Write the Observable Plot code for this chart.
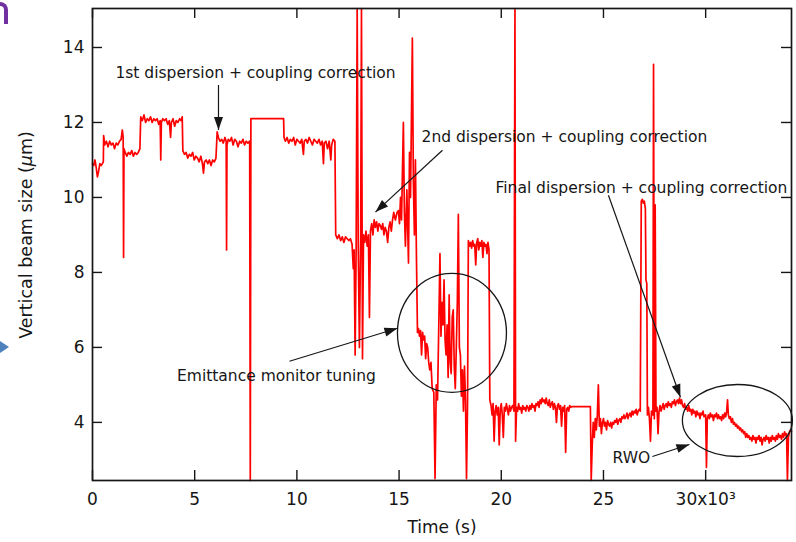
<!DOCTYPE html>
<html><head><meta charset="utf-8">
<script src="https://cdn.jsdelivr.net/npm/d3@7"></script>
<script src="https://cdn.jsdelivr.net/npm/@observablehq/plot@0.6"></script>
<style>
html,body{margin:0;padding:0;background:#fff;}
#wrap{position:relative;width:796px;height:542px;overflow:hidden;}
#deco-n{position:absolute;left:-9px;top:2px;width:9px;height:18px;border:4px solid #7030a0;border-bottom:none;border-radius:8px 8px 0 0;}
#deco-tri{position:absolute;left:0;top:341px;width:0;height:0;border-left:9px solid #4f81bd;border-top:6px solid transparent;border-bottom:6px solid transparent;}
</style></head><body><div id="wrap"><div id="chart"></div><div id="deco-n"></div><div id="deco-tri"></div></div>
<script>
// ---- data (time in s, vertical beam size in µm) ----
const phaseStart = [[0,10.9],[60,10.85],[120,11.0],[180,10.8],[240,10.55],[300,10.7],[360,10.9],[420,10.85],[480,10.9],[530,10.95],
[545,11.65],[600,11.4],[680,11.5],[760,11.35],[840,11.5],[920,11.4],[1000,11.45],[1080,11.3],[1160,11.45],[1240,11.4],[1320,11.5],[1400,11.55],[1460,11.8],[1500,11.6],[1520,8.4],[1540,11.3],[1600,11.2],[1680,11.1],[1760,11.2],[1840,11.15],[1920,11.25],[2000,11.1],[2080,11.2],[2160,11.15],[2240,11.2],[2320,11.3],
[2360,12.15],[2440,12.05],[2520,12.2],[2600,12.0],[2680,12.1],[2760,12.05],[2840,12.15],[2920,12.0],[3000,12.1],[3080,12.05],[3160,12.1],[3240,11.95],[3310,12.05],[3340,11.0],[3370,12.0],[3440,12.1],[3520,12.05],[3600,12.1],[3680,11.95],[3760,12.05],[3820,11.6],[3860,12.0],[3940,12.1],[4020,11.9],[4100,12.05],[4180,12.0],[4260,12.1],[4340,12.05],[4390,12.15],
[4420,11.25],[4500,11.15],[4580,11.2],[4660,11.05],[4740,11.15],[4820,11.1],[4900,11.2],[4980,11.0],[5060,11.1],[5140,11.05],[5220,10.95],[5300,11.1],[5380,10.9],[5430,10.65],[5480,10.95],[5560,11.0],[5640,10.9],[5720,11.0],[5800,10.85],[5880,11.0],[5960,10.95],[6040,11.05]];
const phaseFirstCorr = [[6100,11.75],[6160,11.6],[6240,11.5],[6320,11.55],[6400,11.45],[6480,11.6],[6540,11.5],[6560,8.6],[6580,11.4],[6640,11.55],[6720,11.5],[6800,11.6],[6880,11.4],[6960,11.55],[7040,11.5],[7120,11.35],[7200,11.5],[7280,11.45],[7360,11.55],[7440,11.4],[7520,11.5],[7600,11.45],[7690,11.5],[7720,2.45],[7750,12.1],[9350,12.1],
[9370,11.6],[9440,11.5],[9520,11.6],[9600,11.45],[9680,11.55],[9760,11.5],[9840,11.6],[9920,11.4],[10000,11.55],[10080,11.5],[10160,11.45],[10240,11.55],[10320,11.15],[10360,11.5],[10440,11.55],[10520,11.45],[10600,11.6],[10680,11.5],[10760,11.4],[10840,11.55],[10920,11.5],[11000,11.45],[11080,11.55],[11160,11.4],[11240,11.5],[11300,10.9],[11340,11.45],[11420,11.5],[11500,11.3],[11580,11.5],[11660,11.0],[11700,11.4],[11780,11.55],[11860,11.5]];
const phaseSecondCorr = [[11900,9.0],[11980,8.9],[12060,9.0],[12140,8.85],[12220,8.95],[12300,8.8],[12380,8.95],[12460,8.9],[12540,8.85],[12620,8.9],[12700,8.75],[12760,8.1],[12800,8.6],[12850,5.8],[12900,8.7],[12950,15.04],[13000,8.8],[13060,6.0],[13120,8.9],[13160,15.04],[13210,5.7],[13260,9.0],[13320,8.8],[13380,9.1],[13440,8.7],[13500,9.0],[13550,6.8],[13600,9.1],[13660,9.3],[13720,9.0],[13780,9.4],[13840,9.2],[13900,9.35],[13960,9.1],[14020,9.3],[14080,9.25],[14140,9.15],[14200,9.3],[14260,9.0],[14320,9.2],[14380,9.1],[14440,8.8],[14500,9.2],[14560,9.35],[14620,9.1],[14680,9.4],[14740,9.6],[14820,9.4],[14900,9.6],[14970,9.65],[15020,9.3],[15070,10.0],[15120,9.4],[15210,12.0],[15260,9.6],[15310,8.7],[15380,10.2],[15460,8.25],[15510,11.2],[15560,10.0],[15650,14.25],[15700,10.4],[15750,9.0],[15800,11.0],[15850,8.4]];
const phaseTuning = [[15900,6.4],[15950,6.5],[16000,6.3],[16050,6.45],[16100,5.8],[16150,6.4],[16200,6.2],[16250,6.3],[16300,5.7],[16350,6.1],[16400,6.0],[16450,5.6],[16500,5.4],[16560,5.6],[16620,4.9],[16700,4.8],[16760,2.5],[16820,5.0],[16880,4.6],[16940,6.5],[17000,8.5],[17050,6.3],[17100,7.2],[17150,6.6],[17200,7.8],[17250,6.2],[17300,5.8],[17350,6.6],[17400,5.2],[17450,7.4],[17500,5.6],[17550,5.3],[17600,6.8],[17650,7.0],[17700,5.5],[17750,4.9],[17800,6.0],[17850,7.2],[17900,9.55],[17950,6.0],[18000,5.8],[18050,4.7],[18100,5.4],[18150,4.3],[18200,5.5],[18250,4.6],[18300,2.5],[18350,4.5],
[18390,8.85],[18450,8.7],[18500,8.8],[18550,8.65],[18600,8.85],[18650,8.7],[18700,8.75],[18750,8.2],[18800,8.8],[18850,8.9],[18900,8.6],[18950,8.8],[19000,8.7],[19050,8.85],[19100,8.4],[19150,8.8],[19200,8.7],[19250,8.75],[19300,8.5],[19350,8.8],[19400,8.6]];
const phaseFinal = [[19440,4.6],[19500,4.45],[19550,4.2],[19600,4.5],[19650,3.5],[19700,4.3],[19750,4.45],[19800,4.2],[19850,4.4],[19900,3.4],[19950,4.35],[20000,4.5],[20050,4.2],[20100,3.6],[20150,4.4],[20200,4.3],[20250,4.5],[20300,4.35],[20350,4.2],[20400,4.45],[20450,4.3],[20500,4.4],[20560,4.45],[20620,4.3],[20670,15.04],[20700,3.5],[20750,4.4],[20800,4.3],[20850,4.5],[20900,4.35],[20950,4.4],[21000,4.25],[21050,4.45],[21100,4.35],[21150,4.4],[21200,4.3],[21250,4.45],[21300,4.4],[21350,4.3],[21400,4.45],[21450,4.35],[21500,4.5],[21550,4.4],[21600,4.45],[21650,4.3],[21700,4.5],[21750,4.45],[21800,4.55],[21850,4.4],[21900,4.6],[21950,4.5],[22000,4.65],[22050,4.55],[22100,4.6],[22150,4.5],[22200,4.65],[22250,4.5],[22300,4.45],[22350,4.6],[22400,4.4],[22450,4.5],[22500,4.55],[22550,4.35],[22600,4.5],[22650,4.4],[22700,4.0],[22750,4.45],[22800,4.5],[22850,4.35],[22900,4.45],[22950,3.9],[23000,4.4],[23050,4.3],[23100,4.45],[23150,3.2],[23200,4.35],[23250,4.4],[23300,4.3],[23350,4.45],[23400,4.4],[23450,4.42],[24360,4.42],
[24400,2.45],[24450,3.4],[24500,4.0],[24550,3.6],[24600,4.1],[24650,3.8],[24700,4.2],[24750,5.0],[24800,3.9],[24850,4.1],[24900,3.7],[24950,4.0],[25000,4.1],[25050,3.9],[25100,4.0],[25150,3.8],[25200,4.05],[25250,3.95],[25300,3.9],[25350,4.0],[25400,3.85],[25450,4.0],[25500,3.95],[25550,4.05],[25600,4.0],[25650,4.1],[25700,3.95],[25750,4.05],[25800,4.1],[25850,4.0],[25900,4.15],[25950,4.1],[26000,4.2],[26050,4.1],[26100,4.15],[26150,4.25],[26200,4.1],[26250,4.2],[26300,4.25],[26350,4.15],[26400,4.3],[26450,4.2],[26500,4.3],[26550,4.25],[26600,4.35],[26650,4.2],[26700,4.3],[26750,4.35],[26800,4.3],
[26850,9.9],[26900,9.95],[26950,9.85],[27000,9.9],[27050,9.7],[27080,7.8],[27120,7.7],[27150,4.2],[27200,4.4],[27250,4.1],[27300,3.5],[27350,4.3],[27420,4.2],[27450,13.55],[27490,4.1],[27530,9.8],[27570,4.3],
[27620,4.4],[27670,3.7],[27720,4.3],[27770,4.45],[27820,4.3],[27870,4.4],[27920,4.5],[27970,4.35],[28020,4.45],[28070,4.5],[28120,4.4],[28170,4.55],[28220,4.45],[28270,4.5],[28320,4.4],[28370,4.55],[28420,4.5],[28470,4.6],[28520,4.45],[28570,4.55],[28620,4.6],[28670,4.5],[28720,4.65],[28770,4.5],[28820,4.6],[28870,4.45],[28920,4.4],[28970,4.5],[29020,4.35],[29070,4.4],[29120,4.3],[29170,4.45],[29220,4.3],[29270,4.35],[29320,4.2],[29370,4.35],[29420,4.25],[29470,4.3],[29520,4.15],[29570,4.3],[29620,4.2],[29670,4.25],[29720,4.1],[29770,4.25],[29820,4.2],[29870,4.3],[29920,4.15],[30000,4.2],[30040,2.8],[30080,4.1],[30130,4.2],[30180,4.1],[30230,4.25],[30280,4.15],[30330,4.2],[30380,4.05],[30430,4.2],[30480,4.15],[30530,4.25],[30580,4.1],[30630,4.2],[30680,4.1],[30730,4.15],[30780,4.05],[30830,4.2],[30880,4.1],[30930,4.25],[30980,4.15],[31030,4.3],[31070,4.6],[31110,4.2],[31160,4.1],[31210,4.15],[31260,4.0],[31310,4.1],[31360,3.95],[31410,4.0],[31460,3.9],[31510,3.95],[31560,3.85],[31610,3.9],[31660,3.8],[31710,3.85],[31760,3.75],[31810,3.8],[31860,3.7],[31910,3.75],[31960,3.6],[32010,3.7],[32060,3.6],[32110,3.65],[32160,3.55],[32210,3.6],[32260,3.5],[32310,3.65],[32360,3.55],[32410,3.6],[32460,3.45],[32510,3.6],[32560,3.55],[32610,3.65],[32660,3.5],[32710,3.6],[32760,3.4],[32810,3.55],[32860,3.6],[32910,3.5],[32960,3.65],[33010,3.55],[33060,3.6],[33110,3.45],[33160,3.6],[33210,3.5],[33260,3.65],[33310,3.55],[33360,3.6],[33410,3.5],[33460,3.65],[33510,3.55],[33560,3.7],[33610,3.6],[33660,3.65],[33710,3.55],[33760,3.7],[33810,3.6],[33860,3.75],[33910,3.65],[33960,3.7],[34000,2.45],[34050,3.6],[34100,3.75],[34150,3.8],[34200,3.75]];

const xTickValues = [0, 5000, 10000, 15000, 20000, 25000, 30000];
const xTickLabels = ["0", "5", "10", "15", "20", "25", "30x10³"];
const yTickValues = [4, 6, 8, 10, 12, 14];

const noteTexts = ["1st dispersion + coupling correction", "2nd dispersion + coupling correction", "Final dispersion + coupling correction", "Emittance monitor tuning", "RWO"];
const noteX = [7974, 23090, 26857, 9001, 26368];
const noteY = [13.32, 11.61, 10.25, 5.23, 3.04];

const arrowX1 = [6164, 17122, 25243, 9637, 27395];
const arrowY1 = [13.0, 11.26, 10.06, 5.63, 3.09];
const arrowX2 = [6164, 13844, 28765, 14921, 29205];
const arrowY2 = [11.8, 9.61, 4.67, 6.51, 3.41];

const ringX = [17587, 31553];
const ringY = [6.39, 4.05];

// ---- drawing ----
const series = [...phaseStart, ...phaseFirstCorr, ...phaseSecondCorr, ...phaseTuning, ...phaseFinal].map(([t, v]) => ({t, v}));
const notes = noteTexts.map((s, i) => ({s, x: noteX[i], y: noteY[i]}));
const arrows = arrowX1.map((x1, i) => ({x1, y1: arrowY1[i], x2: arrowX2[i], y2: arrowY2[i]}));

function ellipseSymbol(rx, ry) {
  const k = 0.5523;
  return {draw(c) {
    c.moveTo(rx, 0);
    c.bezierCurveTo(rx, k * ry, k * rx, ry, 0, ry);
    c.bezierCurveTo(-k * rx, ry, -rx, k * ry, -rx, 0);
    c.bezierCurveTo(-rx, -k * ry, -k * rx, -ry, 0, -ry);
    c.bezierCurveTo(k * rx, -ry, rx, -k * ry, rx, 0);
    c.closePath();
  }};
}
const headSymbol = {draw(c) { c.moveTo(0, 0); c.lineTo(-4.5, 13); c.lineTo(4.5, 13); c.closePath(); }};

const ink = "#161616";
const W = 796, H = 542, ML = 92, MR = 5, MT = 8, MB = 62;
const innerW = W - ML - MR, innerH = H - MT - MB;

const base = {
  width: W, height: H,
  marginLeft: ML, marginRight: MR, marginTop: MT, marginBottom: MB,
  style: {fontFamily: "DejaVu Sans", fontSize: "17px", color: ink, background: "#fff"},
  x: {domain: [0, 34200], ticks: xTickValues, tickSize: 0, tickPadding: 12,
      tickFormat: d => xTickLabels[xTickValues.indexOf(d)], label: null},
  y: {domain: [2.45, 15.04], ticks: yTickValues, tickSize: 0, tickPadding: 8, label: null}
};

function buildMarks(heads) {
  return [
    Plot.line(series, {x: "t", y: "v", stroke: "#ff0000", strokeWidth: 1.7, strokeLinejoin: "round"}),
    Plot.tickX(xTickValues, {x: d => d, insetTop: innerH - 10, stroke: ink, strokeWidth: 1.4}),
    Plot.tickX(xTickValues, {x: d => d, insetBottom: innerH - 10, stroke: ink, strokeWidth: 1.4}),
    Plot.tickY(yTickValues, {y: d => d, insetRight: innerW - 10, stroke: ink, strokeWidth: 1.4}),
    Plot.tickY(yTickValues, {y: d => d, insetLeft: innerW - 10, stroke: ink, strokeWidth: 1.4}),
    Plot.frame({stroke: ink, strokeWidth: 1.7}),
    Plot.dot([0], {x: () => ringX[0], y: () => ringY[0], symbol: ellipseSymbol(54.5, 59.5), fill: "none", stroke: ink, strokeWidth: 1.3}),
    Plot.dot([1], {x: () => ringX[1], y: () => ringY[1], symbol: ellipseSymbol(55, 36), fill: "none", stroke: ink, strokeWidth: 1.3}),
    Plot.link(arrows, {x1: "x1", y1: "y1", x2: "x2", y2: "y2", stroke: ink, strokeWidth: 1.2}),
    Plot.dot(heads, {x: "x", y: "y", rotate: "a", symbol: headSymbol, fill: ink, stroke: "none"}),
    Plot.text(notes, {x: "x", y: "y", text: "s", fontSize: 15.5, fill: ink}),
    Plot.text(["Time (s)"], {frameAnchor: "bottom", dy: 52, fontSize: 17, fill: ink})
  ];
}

const probe = Plot.plot({...base, marks: buildMarks([])});
const sx = probe.scale("x"), sy = probe.scale("y");
const heads = arrows.map(a => {
  const dx = sx.apply(a.x2) - sx.apply(a.x1);
  const dy = sy.apply(a.y2) - sy.apply(a.y1);
  return {x: a.x2, y: a.y2, a: Math.atan2(dx, -dy) * 180 / Math.PI};
});
const chart = Plot.plot({...base, marks: buildMarks(heads)});

// y-axis title with italic mu
const ylab = d3.select(chart).append("text")
  .attr("transform", `translate(26,${MT + innerH / 2 - 9}) rotate(-90)`)
  .attr("text-anchor", "middle").attr("dominant-baseline", "central")
  .attr("fill", ink).style("font-size", "17.5px").style("font-family", "DejaVu Sans");
ylab.append("tspan").text("Vertical beam size (");
ylab.append("tspan").attr("font-style", "italic").text("µ");
ylab.append("tspan").text("m)");

document.getElementById("chart").appendChild(chart);
</script></body></html>
